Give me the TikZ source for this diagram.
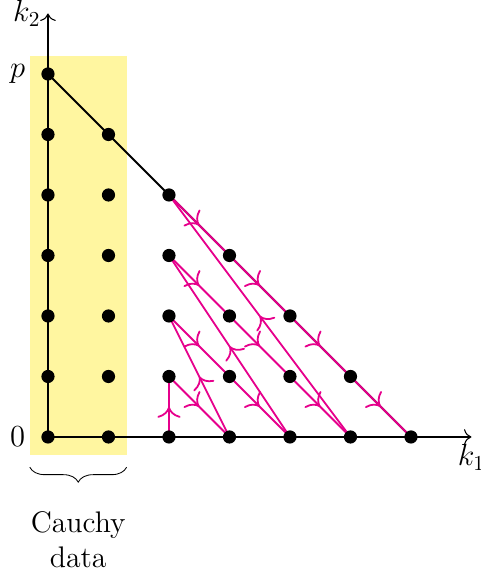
\documentclass[tikz,border=0pt]{standalone}
\usetikzlibrary{decorations.markings,decorations.pathreplacing,arrows.meta}
\definecolor{mag}{RGB}{230,0,140}
\definecolor{cyel}{RGB}{255,246,160}
\pgfdeclarelayer{bg}
\pgfsetlayers{bg,main}
\begin{document}
\begin{tikzpicture}[x=1cm,y=1cm,
  font=\fontsize{14}{16.5}\selectfont,
  dot/.style={circle,fill=black,inner sep=0pt,minimum size=6.2pt},
  axis/.style={line width=0.5pt,-{To[scale=1.3]}},
  flow/.style={mag,line width=0.85pt,postaction={decorate},
    decoration={markings,mark=at position 0.5 with {\arrow{To[scale=1.5]}}}},
  hyp/.style={black,line width=0.85pt}]
\useasboundingbox (-0.793,-2.331) rectangle (7.157,7.223);
% lattice points
\foreach \i in {0,...,6}{
  \foreach \j in {0,...,6}{
    \pgfmathtruncatemacro\s{\i+\j}
    \ifnum\s<7 \node[dot] (p\i\j) at (\i,\j) {};\fi
  }
}
\coordinate (o) at (0,0);
\coordinate (xend) at (7,0);
\coordinate (yend) at (0,7);
\coordinate (bl) at (-0.3,-0.5);
\coordinate (br) at (1.3,-0.5);
\begin{pgfonlayer}{bg}
  \fill[cyel] (-0.3,-0.3) rectangle (1.3,6.3);
  \draw[axis] (o) -- (xend);
  \draw[axis] (o) -- (yend);
  \draw[hyp] (p06.center) -- (p60.center);
  % diagonal characteristic segments
  \foreach \j in {1,...,4}{
    \pgfmathtruncatemacro\jm{\j-1}
    \foreach \k in {0,...,\jm}{
      \pgfmathtruncatemacro\xa{2+\k}
      \pgfmathtruncatemacro\ya{\j-\k}
      \pgfmathtruncatemacro\xb{3+\k}
      \pgfmathtruncatemacro\yb{\j-\k-1}
      \draw[flow] (p\xa\ya.center) -- (p\xb\yb.center);
    }
  }
  % steep lines back to column 2
  \foreach \j in {1,...,4}{
    \pgfmathtruncatemacro\xa{1+\j}
    \draw[flow] (p\xa0.center) -- (p2\j.center);
  }
\end{pgfonlayer}
\node[below=0pt] (k1) at (xend) {$k_1$};
\node[left=0pt] (k2) at (yend) {$k_2$};
\node (plab) at (-0.5,6) {$p$};
\node (zlab) at (-0.5,0) {$0$};
\draw[decorate,decoration={brace,mirror,amplitude=7pt}] (bl) -- (br);
\node[align=center] (cd) at (0.5,-1.7) {Cauchy\\data};
\end{tikzpicture}
\end{document}
